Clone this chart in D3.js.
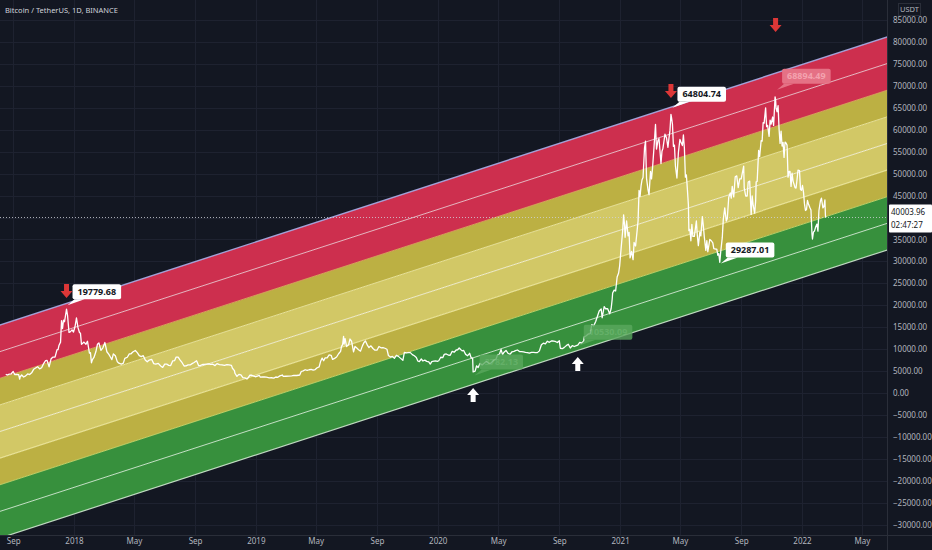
<!DOCTYPE html>
<html><head><meta charset="utf-8">
<script src="https://cdn.jsdelivr.net/npm/d3@7"></script>
<style>html,body{margin:0;padding:0;background:#131722;overflow:hidden;}svg{display:block;}</style>
</head><body><div id="chart"></div>
<script>
const chartTitle = "Bitcoin / TetherUS, 1D, BINANCE";
const currencyLabel = "USDT";
const priceTicks = [-30000,-25000,-20000,-15000,-10000,-5000,0,5000,10000,15000,20000,25000,30000,35000,40000,45000,50000,55000,60000,65000,70000,75000,80000,85000];
const timeTickDates = ["2017-09-01","2018-01-01","2018-05-01","2018-09-01","2019-01-01","2019-05-01","2019-09-01","2020-01-01","2020-05-01","2020-09-01","2021-01-01","2021-05-01","2021-09-01","2022-01-01","2022-05-01"];
const timeTickLabels = ["Sep","2018","May","Sep","2019","May","Sep","2020","May","Sep","2021","May","Sep","2022","May"];

// daily close samples (BTC/USDT)
const btcClose = [
["2017-08-17",4285],["2017-08-20",4100],["2017-08-24",4300],["2017-08-28",4380],["2017-09-01",4890],["2017-09-04",4220],["2017-09-08",4230],["2017-09-12",4160],["2017-09-14",3190],["2017-09-15",3700],["2017-09-18",4100],["2017-09-22",3650],["2017-09-26",3900],["2017-09-30",4350],["2017-10-04",4200],["2017-10-08",4600],["2017-10-12",5400],["2017-10-16",5700],["2017-10-20",6000],["2017-10-24",5500],["2017-10-28",5750],["2017-11-01",6700],["2017-11-05",7400],["2017-11-08",7450],["2017-11-12",5950],["2017-11-16",7800],["2017-11-20",8200],["2017-11-24",8200],["2017-11-28",9900],["2017-11-30",9900],["2017-12-02",10900],["2017-12-05",11600],["2017-12-07",16500],["2017-12-09",14700],["2017-12-11",16600],["2017-12-13",16250],["2017-12-15",17700],["2017-12-17",19100],["2017-12-19",17750],["2017-12-22",13800],["2017-12-25",14000],["2017-12-28",14400],["2017-12-31",13900],
["2018-01-03",15100],["2018-01-06",17100],["2018-01-09",14900],["2018-01-12",13800],["2018-01-14",13600],["2018-01-16",11100],["2018-01-18",11300],["2018-01-21",11600],["2018-01-25",11100],["2018-01-28",11800],["2018-02-01",9100],["2018-02-03",9200],["2018-02-05",6900],["2018-02-07",7600],["2018-02-10",8100],["2018-02-14",9450],["2018-02-17",11100],["2018-02-20",11400],["2018-02-24",9700],["2018-02-28",10300],["2018-03-04",11500],["2018-03-08",9400],["2018-03-12",8800],["2018-03-15",8200],["2018-03-18",7600],["2018-03-21",8900],["2018-03-25",8500],["2018-03-29",7100],["2018-04-01",6800],["2018-04-06",6600],["2018-04-10",6800],["2018-04-13",7900],["2018-04-18",8150],["2018-04-22",8900],["2018-04-25",8900],["2018-04-29",9350],["2018-05-04",9700],["2018-05-08",9200],["2018-05-12",8500],["2018-05-16",8300],["2018-05-20",8500],["2018-05-24",7500],["2018-05-28",7100],["2018-06-01",7500],["2018-06-06",7650],["2018-06-10",6700],["2018-06-14",6600],["2018-06-19",6750],["2018-06-24",6150],["2018-06-28",5850],["2018-07-02",6600],["2018-07-06",6600],["2018-07-10",6300],["2018-07-14",6250],["2018-07-18",7300],["2018-07-22",7400],["2018-07-25",8200],["2018-07-29",8200],["2018-08-02",7500],["2018-08-06",6900],["2018-08-10",6150],["2018-08-14",6200],["2018-08-18",6400],["2018-08-22",6400],["2018-08-26",6700],["2018-08-30",6950],["2018-09-04",7350],["2018-09-08",6250],["2018-09-12",6300],["2018-09-16",6500],["2018-09-20",6500],["2018-09-24",6600],["2018-09-28",6650],["2018-10-02",6500],["2018-10-06",6600],["2018-10-11",6250],["2018-10-15",6700],["2018-10-20",6450],["2018-10-25",6400],["2018-10-30",6300],["2018-11-04",6450],["2018-11-08",6400],["2018-11-13",6300],["2018-11-15",5650],["2018-11-19",5100],["2018-11-20",4500],["2018-11-24",3800],["2018-11-28",4250],["2018-12-02",4150],["2018-12-06",3500],["2018-12-10",3450],["2018-12-14",3200],["2018-12-17",3550],["2018-12-20",4050],["2018-12-24",4050],["2018-12-28",3850],["2018-12-31",3700],
["2019-01-04",3850],["2019-01-08",4000],["2019-01-10",3600],["2019-01-14",3650],["2019-01-18",3650],["2019-01-22",3600],["2019-01-28",3450],["2019-02-01",3480],["2019-02-06",3400],["2019-02-10",3650],["2019-02-14",3580],["2019-02-18",3900],["2019-02-23",4100],["2019-02-25",3800],["2019-03-02",3820],["2019-03-08",3850],["2019-03-14",3900],["2019-03-18",4000],["2019-03-24",3990],["2019-03-30",4100],["2019-04-02",4900],["2019-04-06",5050],["2019-04-10",5300],["2019-04-14",5150],["2019-04-18",5300],["2019-04-22",5380],["2019-04-26",5200],["2019-04-30",5350],["2019-05-04",5750],["2019-05-08",5950],["2019-05-11",7250],["2019-05-14",7950],["2019-05-17",7350],["2019-05-20",8000],["2019-05-24",8000],["2019-05-28",8700],["2019-06-01",8600],["2019-06-04",7650],["2019-06-08",7900],["2019-06-12",8200],["2019-06-16",8950],["2019-06-20",9500],["2019-06-22",10700],["2019-06-24",11000],["2019-06-26",12900],["2019-06-27",11150],["2019-06-29",12400],["2019-07-02",10600],["2019-07-06",11000],["2019-07-09",12300],["2019-07-12",11800],["2019-07-16",9400],["2019-07-19",10600],["2019-07-22",10300],["2019-07-26",9850],["2019-07-30",9550],["2019-08-03",10800],["2019-08-06",11500],["2019-08-09",11850],["2019-08-13",10850],["2019-08-16",10350],["2019-08-20",10750],["2019-08-24",10140],["2019-08-28",9750],["2019-09-01",9750],["2019-09-05",10600],["2019-09-09",10300],["2019-09-13",10350],["2019-09-17",10200],["2019-09-21",9980],["2019-09-24",8550],["2019-09-28",8200],["2019-10-02",8350],["2019-10-06",7900],["2019-10-10",8600],["2019-10-14",8350],["2019-10-18",7950],["2019-10-23",7450],["2019-10-26",9250],["2019-10-30",9150],["2019-11-03",9200],["2019-11-07",9200],["2019-11-11",8750],["2019-11-15",8480],["2019-11-19",8100],["2019-11-22",7300],["2019-11-25",7150],["2019-11-29",7750],["2019-12-02",7300],["2019-12-06",7500],["2019-12-10",7200],["2019-12-14",7080],["2019-12-17",6600],["2019-12-20",7150],["2019-12-24",7250],["2019-12-28",7300],["2019-12-31",7200],
["2020-01-03",7350],["2020-01-07",8150],["2020-01-11",8050],["2020-01-14",8800],["2020-01-18",8900],["2020-01-22",8650],["2020-01-26",8600],["2020-01-30",9500],["2020-02-03",9300],["2020-02-07",9800],["2020-02-10",9850],["2020-02-13",10250],["2020-02-16",9900],["2020-02-19",9600],["2020-02-22",9700],["2020-02-26",8800],["2020-03-01",8500],["2020-03-05",9050],["2020-03-08",8050],["2020-03-11",7900],["2020-03-12",4800],["2020-03-16",5000],["2020-03-19",6200],["2020-03-22",5800],["2020-03-26",6750],["2020-03-30",6400],["2020-04-03",6800],["2020-04-07",7200],["2020-04-11",6900],["2020-04-15",6650],["2020-04-19",7100],["2020-04-23",7500],["2020-04-27",7750],["2020-04-30",8650],["2020-05-04",8900],["2020-05-07",9950],["2020-05-10",8750],["2020-05-13",9300],["2020-05-17",9700],["2020-05-21",9050],["2020-05-25",8800],["2020-05-29",9400],["2020-06-02",9500],["2020-06-05",9650],["2020-06-09",9800],["2020-06-13",9450],["2020-06-17",9450],["2020-06-21",9350],["2020-06-25",9250],["2020-06-29",9200],["2020-07-03",9070],["2020-07-07",9250],["2020-07-11",9250],["2020-07-15",9200],["2020-07-19",9200],["2020-07-23",9600],["2020-07-27",11000],["2020-07-31",11350],["2020-08-04",11200],["2020-08-08",11800],["2020-08-12",11550],["2020-08-16",11850],["2020-08-20",11850],["2020-08-24",11750],["2020-08-28",11500],["2020-09-01",11900],["2020-09-03",10200],["2020-09-07",10100],["2020-09-11",10400],["2020-09-15",10800],["2020-09-19",11100],["2020-09-23",10250],["2020-09-27",10800],["2020-10-01",10600],["2020-10-05",10800],["2020-10-08",10900],["2020-10-12",11550],["2020-10-16",11350],["2020-10-20",11900],["2020-10-21",12800],["2020-10-25",13050],["2020-10-29",13450],["2020-11-02",13550],["2020-11-05",15600],["2020-11-09",15300],["2020-11-13",16300],["2020-11-17",17650],["2020-11-20",18700],["2020-11-24",19150],["2020-11-26",17150],["2020-11-30",19700],["2020-12-03",19200],["2020-12-07",19200],["2020-12-11",18050],["2020-12-14",19250],["2020-12-16",21300],["2020-12-17",22800],["2020-12-20",23450],["2020-12-23",23250],["2020-12-26",26450],["2020-12-29",27350],["2020-12-31",28900],
["2021-01-03",33000],["2021-01-06",36800],["2021-01-08",40600],["2021-01-10",38150],["2021-01-11",35500],["2021-01-14",39200],["2021-01-17",35800],["2021-01-19",36600],["2021-01-21",30800],["2021-01-24",32300],["2021-01-27",30400],["2021-01-29",34300],["2021-02-01",33500],["2021-02-04",36900],["2021-02-06",39200],["2021-02-08",46200],["2021-02-10",44800],["2021-02-12",47200],["2021-02-14",48600],["2021-02-16",49100],["2021-02-19",55900],["2021-02-21",57400],["2021-02-23",48900],["2021-02-26",46300],["2021-02-28",45200],["2021-03-03",50500],["2021-03-05",48800],["2021-03-07",51200],["2021-03-10",56000],["2021-03-13",61200],["2021-03-15",55600],["2021-03-18",57600],["2021-03-20",58000],["2021-03-24",52300],["2021-03-26",55100],["2021-03-28",55800],["2021-04-01",59000],["2021-04-04",58200],["2021-04-07",56000],["2021-04-09",58100],["2021-04-11",59800],["2021-04-13",63500],["2021-04-14",62900],["2021-04-16",61300],["2021-04-18",56200],["2021-04-20",56500],["2021-04-22",51700],["2021-04-25",49000],["2021-04-28",54900],["2021-05-01",57800],["2021-05-03",57200],["2021-05-06",56400],["2021-05-08",58800],["2021-05-10",55800],["2021-05-12",49200],["2021-05-14",49700],["2021-05-16",46400],["2021-05-18",42900],["2021-05-19",37000],["2021-05-21",37300],["2021-05-23",34700],["2021-05-25",38400],["2021-05-27",35700],["2021-05-30",35700],["2021-06-03",39200],["2021-06-05",35800],["2021-06-07",33600],["2021-06-10",36700],["2021-06-12",35800],["2021-06-15",40200],["2021-06-17",38100],["2021-06-19",35500],["2021-06-22",32500],["2021-06-24",34700],["2021-06-26",32200],["2021-06-30",35000],["2021-07-03",34700],["2021-07-06",34200],["2021-07-08",32900],["2021-07-12",32800],["2021-07-14",32800],["2021-07-16",31400],["2021-07-18",31800],["2021-07-20",29800],["2021-07-22",32300],["2021-07-25",35400],["2021-07-27",39500],["2021-07-30",42200],["2021-08-02",39200],["2021-08-04",39700],["2021-08-07",44600],["2021-08-10",45600],["2021-08-12",44400],["2021-08-14",47100],["2021-08-17",44700],["2021-08-20",49300],["2021-08-23",49500],["2021-08-26",46800],["2021-08-29",48800],["2021-09-01",48800],["2021-09-03",50000],["2021-09-06",51700],["2021-09-07",46800],["2021-09-10",44900],["2021-09-13",44900],["2021-09-15",48100],["2021-09-18",48300],["2021-09-20",43000],["2021-09-21",40700],["2021-09-23",44900],["2021-09-25",42800],["2021-09-28",41000],["2021-09-30",43800],["2021-10-01",48100],["2021-10-03",48200],["2021-10-06",55300],["2021-10-08",53900],["2021-10-11",57500],["2021-10-13",57400],["2021-10-15",61600],["2021-10-17",61500],["2021-10-20",65000],["2021-10-22",60700],["2021-10-24",61000],["2021-10-27",58500],["2021-10-29",62200],["2021-10-31",61300],["2021-11-03",62900],["2021-11-05",61000],["2021-11-08",67500],["2021-11-09",66900],["2021-11-10",64900],["2021-11-12",64100],["2021-11-14",65500],["2021-11-16",60100],["2021-11-18",56900],["2021-11-20",59700],["2021-11-22",56300],["2021-11-24",57100],["2021-11-26",53700],["2021-11-28",57200],["2021-11-30",57000],["2021-12-02",56500],["2021-12-04",49200],["2021-12-06",50500],["2021-12-08",50500],["2021-12-10",47100],["2021-12-12",50100],["2021-12-14",48300],["2021-12-16",47600],["2021-12-18",46800],["2021-12-20",46700],["2021-12-22",48600],["2021-12-24",50800],["2021-12-27",50700],["2021-12-29",46400],["2021-12-31",46200],
["2022-01-02",47300],["2022-01-04",45800],["2022-01-06",43100],["2022-01-08",41600],["2022-01-10",41800],["2022-01-12",43900],["2022-01-14",43100],["2022-01-17",42200],["2022-01-19",41700],["2022-01-21",36300],["2022-01-22",35100],["2022-01-24",36700],["2022-01-26",36900],["2022-01-28",37700],["2022-01-31",38500],["2022-02-02",36900],["2022-02-04",41600],["2022-02-07",43800],["2022-02-09",44400],["2022-02-10",43600],["2022-02-12",42200],["2022-02-14",42500],["2022-02-16",44000],["2022-02-17",40500],["2022-02-18",40000]
];

// parallel channel: top line anchors and sub-band width
const channelDates = ["2017-08-01","2022-06-25"];
const channelTop = [15334, 81300];
const bandStep = 6069;
const bandCount = 8;

// labelled extremes
const labelDates = ["2017-12-17","2021-04-14","2021-11-10","2021-07-20","2020-03-13","2020-10-08"];
const labelPrices = [19779.68, 64804.74, 68894.49, 29287.01, 3782.13, 10530.09];
const labelKinds = ["white","white","red","white","green","green"];

// arrow markers (tip position)
const arrowDates = ["2017-12-17","2021-04-13","2021-11-09","2020-03-12","2020-10-08"];
const arrowPrices = [21650, 67236, 82280, 1140, 8205];
const arrowDirs = ["down","down","down","up","up"];

const lastPrice = 40003.96;
const lastCountdown = "02:47:27";

// ---------- drawing ----------
const W = 932, H = 550, plotR = 887, plotB = 535;
const parse = d3.utcParse("%Y-%m-%d");
const x = d3.scaleUtc().domain([parse("2018-01-01"), parse("2022-01-01")]).range([74, 802]);
const y = d3.scaleLinear().domain([-32364, 89573]).range([plotB, 0]);
const FONT = "'Noto Sans', 'DejaVu Sans', sans-serif";

const svg = d3.select("#chart").append("svg").attr("width", W).attr("height", H)
  .style("font-family", FONT);
svg.append("rect").attr("width", W).attr("height", H).attr("fill", "#131722");

svg.append("clipPath").attr("id", "plotclip").append("rect")
  .attr("x", 0).attr("y", 0).attr("width", plotR).attr("height", plotB);

const grid = svg.append("g").attr("clip-path", "url(#plotclip)");
grid.selectAll("line.h").data(priceTicks).join("line")
  .attr("x1", 0).attr("x2", plotR).attr("y1", d => Math.round(y(d)) + 0.5).attr("y2", d => Math.round(y(d)) + 0.5)
  .attr("stroke", "#1e2230").attr("stroke-width", 1);
grid.selectAll("line.v").data(timeTickDates).join("line")
  .attr("y1", 0).attr("y2", plotB).attr("x1", d => Math.round(x(parse(d))) + 0.5).attr("x2", d => Math.round(x(parse(d))) + 0.5)
  .attr("stroke", "#1e2230").attr("stroke-width", 1);

// channel
const plot = svg.append("g").attr("clip-path", "url(#plotclip)");
const chPts = channelDates.map((d, i) => ({ date: parse(d), top: channelTop[i] }));
const bandFills = ["#cd2f4e", "#cd2f4e", "#bcb043", "#d2c866", "#d2c866", "#bcb043", "#37903d", "#37903d"];
const levelStrokes = ["#a9aee8", "#f3c6cf", "#e2a060", "#f2eba0", "#fbf7d8", "#f2eba0", "#c9d96a", "#d6efd6", "#cfe8cf"];
const levelWidths = [1.4, 1, 1, 1, 1, 1.2, 1, 1, 1.2];
for (let i = 0; i < bandCount; i++) {
  const area = d3.area().x(d => x(d.date))
    .y0(d => y(d.top - bandStep * (i + 1)))
    .y1(d => y(d.top - bandStep * i));
  plot.append("path").datum(chPts).attr("d", area).attr("fill", bandFills[i]);
}
for (let i = 0; i <= bandCount; i++) {
  const ln = d3.line().x(d => x(d.date)).y(d => y(d.top - bandStep * i));
  plot.append("path").datum(chPts).attr("d", ln).attr("fill", "none")
    .attr("stroke", levelStrokes[i]).attr("stroke-width", levelWidths[i]).attr("opacity", 0.9);
}

// last price dotted line
plot.append("line").attr("x1", 0).attr("x2", plotR)
  .attr("y1", y(lastPrice)).attr("y2", y(lastPrice))
  .attr("stroke", "#d1d4dc").attr("stroke-width", 1).attr("stroke-dasharray", "1,2").attr("opacity", 0.8);

// price line
const series = btcClose.map(d => ({ date: parse(d[0]), v: d[1] }));
plot.append("path").datum(series)
  .attr("d", d3.line().x(d => x(d.date)).y(d => y(d.v)))
  .attr("fill", "none").attr("stroke", "#ffffff").attr("stroke-width", 1.3)
  .attr("stroke-linejoin", "round");

// labels
const labelStyle = {
  white: { fill: "#ffffff", text: "#131722", op: 1 },
  red: { fill: "#e77588", text: "#f6a9b5", op: 0.95 },
  green: { fill: "#5aa85e", text: "#70b873", op: 0.8 }
};
labelDates.forEach((d, i) => {
  const px = x(parse(d)), py = y(labelPrices[i]);
  const st = labelStyle[labelKinds[i]];
  const g = plot.append("g").attr("opacity", st.op);
  const txt = d3.format(".2f")(labelPrices[i]);
  const t = g.append("text").attr("x", px + 11).attr("y", py - 14)
    .attr("font-size", 9).attr("font-weight", "bold").attr("fill", st.text)
    .attr("dominant-baseline", "middle").text(txt);
  const tw = t.node().getComputedTextLength();
  const bx = px + 6, by = py - 22, bw = tw + 10, bh = 15;
  g.insert("path", "text").attr("d", `M${bx + 2},${by + bh} L${bx + 12},${by + bh} L${px + 1},${py - 1} Z`).attr("fill", st.fill);
  g.insert("rect", "text").attr("x", bx).attr("y", by).attr("width", bw).attr("height", bh).attr("rx", 2).attr("fill", st.fill);
});

// arrows
arrowDates.forEach((d, i) => {
  const tx = x(parse(d)), ty = y(arrowPrices[i]);
  const s = arrowDirs[i] === "down" ? -1 : 1;
  const p = [[0, 0], [-6, 7], [-2.5, 7], [-2.5, 14], [2.5, 14], [2.5, 7], [6, 7]]
    .map(q => [tx + q[0], ty + q[1] * s]);
  plot.append("path").attr("d", "M" + p.map(q => q.join(",")).join("L") + "Z")
    .attr("fill", arrowDirs[i] === "down" ? "#dc3737" : "#ffffff");
});

// axes borders
svg.append("line").attr("x1", plotR + 0.5).attr("x2", plotR + 0.5).attr("y1", 0).attr("y2", H).attr("stroke", "#2a2e39");
svg.append("line").attr("x1", 0).attr("x2", W).attr("y1", plotB + 0.5).attr("y2", plotB + 0.5).attr("stroke", "#2a2e39");

// price axis labels (the tick hidden by the last-price tag is not shown)
const yAxis = d3.axisRight(y).tickValues(priceTicks).tickFormat(d3.format(".2f")).tickSize(0).tickPadding(6);
const ya = svg.append("g").attr("transform", `translate(${plotR},0)`).call(yAxis);
ya.select(".domain").remove();
ya.selectAll("text").attr("fill", "#b2b5be").attr("font-size", 8).attr("font-family", FONT);
ya.selectAll(".tick").filter(d => Math.abs(y(d) - y(lastPrice)) < 12).select("text").remove();

// time axis labels
const xAxis = d3.axisBottom(x).tickValues(timeTickDates.map(parse))
  .tickFormat((d, i) => timeTickLabels[i]).tickSize(0).tickPadding(3);
const xa = svg.append("g").attr("transform", `translate(0,${plotB})`).call(xAxis);
xa.select(".domain").remove();
xa.selectAll("text").attr("fill", "#b2b5be").attr("font-size", 8).attr("font-family", FONT);

// currency tag
svg.append("rect").attr("x", 898.5).attr("y", 3.5).attr("width", 22).attr("height", 12).attr("fill", "none").attr("stroke", "#2a2e39");
svg.append("text").attr("x", 909.5).attr("y", 10).attr("text-anchor", "middle").attr("dominant-baseline", "middle")
  .attr("font-size", 7.5).attr("fill", "#b2b5be").text(currencyLabel);

// last price tag
const ly = y(lastPrice);
svg.append("rect").attr("x", 889).attr("y", ly - 13).attr("width", 43).attr("height", 28).attr("fill", "#ffffff").attr("rx", 1);
svg.append("text").attr("x", 891).attr("y", ly - 5).attr("dominant-baseline", "middle").attr("font-size", 8).attr("fill", "#131722").text(d3.format(".2f")(lastPrice));
svg.append("text").attr("x", 891).attr("y", ly + 8).attr("dominant-baseline", "middle").attr("font-size", 8).attr("fill", "#131722").text(lastCountdown);

// title
svg.append("text").attr("x", 5).attr("y", 11).attr("dominant-baseline", "middle")
  .attr("font-size", 7.5).attr("fill", "#d1d4dc").text(chartTitle);
</script></body></html>
